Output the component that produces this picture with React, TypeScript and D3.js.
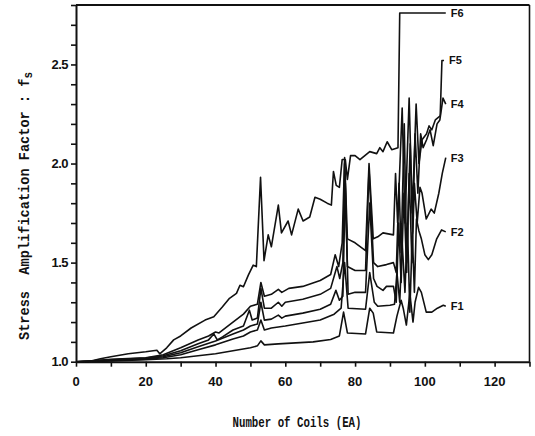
import React, { useEffect, useRef } from 'react';
import * as d3 from 'd3';

type Pt = [number, number];

// tick labels
const xTickLabels = [0, 20, 40, 60, 80, 100, 120];
const yTickLabels = [1.0, 1.5, 2.0, 2.5];
const seriesNames = ['F1', 'F2', 'F3', 'F4', 'F5', 'F6'];

// values: [number of coils, f_s]
const f1: Pt[] = [
  [0, 1.0], [4, 1.0], [10, 1.004], [20, 1.01], [26, 1.015], [30, 1.02], [40, 1.04], [45, 1.055],
  [50, 1.07], [52, 1.08], [53, 1.105], [54, 1.085], [58, 1.09], [63, 1.095], [68, 1.1], [73, 1.112],
  [75.5, 1.13], [76.7, 1.25], [77.8, 1.145], [83, 1.14], [84.2, 1.27], [85.2, 1.245], [86.2, 1.15],
  [91, 1.145], [92, 1.23], [93.2, 1.31], [93.8, 1.27], [94.7, 1.185], [95.7, 1.345], [96.6, 1.2],
  [97.2, 1.3], [98.2, 1.375], [99, 1.35], [100.4, 1.25], [102, 1.25], [103.6, 1.27], [105.3, 1.285],
  [106, 1.28],
];

const f2: Pt[] = [
  [0, 1.0], [5, 1.002], [10, 1.006], [20, 1.013], [25, 1.02], [30, 1.035], [35, 1.06], [40, 1.085],
  [45, 1.115], [48, 1.13], [50, 1.15], [52, 1.16], [53, 1.21], [54, 1.16], [56, 1.17], [58, 1.175],
  [60, 1.18], [65, 1.195], [70, 1.21], [74, 1.24], [76, 1.27], [77, 1.5], [78, 1.27], [83, 1.265],
  [84.2, 1.45], [85.5, 1.3], [86.5, 1.28], [90, 1.285], [91.3, 1.29], [92, 1.45], [92.8, 1.3],
  [93.5, 1.6], [94.3, 1.35], [95, 1.7], [95.7, 1.25], [96.4, 1.65], [97, 1.35], [97.6, 1.72],
  [98.3, 1.66], [99, 1.62], [100, 1.54], [101, 1.515], [102, 1.54], [103.4, 1.62], [104.8, 1.665],
  [106, 1.655],
];

const f3: Pt[] = [
  [0, 1.0], [5, 1.003], [10, 1.008], [20, 1.016], [25, 1.025], [30, 1.045], [35, 1.075], [40, 1.105],
  [45, 1.14], [48, 1.16], [50, 1.18], [52, 1.19], [53, 1.3], [54, 1.21], [56, 1.215], [58, 1.235],
  [59, 1.22], [60, 1.23], [65, 1.245], [70, 1.265], [73, 1.29], [74.5, 1.36], [75.5, 1.31],
  [76.5, 1.33], [77.2, 1.9], [78, 1.34], [80, 1.35], [83, 1.35], [84.2, 1.8], [85.3, 1.42],
  [86.3, 1.38], [88, 1.36], [89, 1.38], [91, 1.38], [91.8, 1.3], [92.5, 1.7], [93.2, 1.4],
  [94, 1.85], [94.8, 1.45], [95.5, 1.95], [96.3, 1.5], [97, 1.9], [97.8, 1.7], [98.6, 1.88],
  [99.2, 1.85], [100.4, 1.72], [101.8, 1.77], [102.7, 1.75], [104, 1.85], [105, 1.95], [106, 2.03],
];

const f4: Pt[] = [
  [0, 1.0], [5, 1.004], [10, 1.01], [20, 1.018], [25, 1.03], [30, 1.055], [35, 1.09], [38, 1.11],
  [39.5, 1.14], [40.5, 1.11], [42, 1.125], [45, 1.16], [48, 1.18], [49.7, 1.26], [50.5, 1.21],
  [52, 1.22], [53, 1.37], [54, 1.27], [56, 1.27], [58, 1.3], [59, 1.28], [60, 1.3], [65, 1.315],
  [70, 1.34], [73, 1.37], [74.8, 1.48], [75.6, 1.42], [76.5, 1.5], [77, 2.0], [77.8, 1.48],
  [80, 1.46], [83, 1.46], [84, 1.97], [85.3, 1.5], [86.5, 1.48], [89, 1.49], [91, 1.5], [91.8, 1.45],
  [92.6, 1.9], [93.2, 1.55], [94.1, 2.2], [94.8, 1.5], [95.8, 2.1], [96.5, 1.65], [97.2, 2.15],
  [98, 1.85], [98.8, 2.15], [99.5, 2.08], [100.5, 2.12], [101.5, 2.17], [102.4, 2.09], [103.5, 2.2],
  [104.3, 2.22], [105.2, 2.33], [106, 2.3],
];

const f5: Pt[] = [
  [0, 1.0], [5, 1.005], [10, 1.012], [20, 1.02], [25, 1.035], [30, 1.07], [35, 1.11], [38, 1.13],
  [40, 1.15], [41, 1.145], [45, 1.2], [48, 1.24], [50, 1.28], [52, 1.29], [53, 1.4], [54, 1.33],
  [56, 1.34], [58, 1.365], [59, 1.35], [61, 1.37], [65, 1.38], [70, 1.41], [73, 1.44], [74.3, 1.54],
  [75.3, 1.48], [76.3, 1.6], [77, 2.03], [77.8, 1.62], [80, 1.6], [83, 1.56], [84, 2.0], [85.2, 1.62],
  [86.5, 1.63], [88, 1.65], [89.5, 1.645], [91, 1.64], [91.6, 1.95], [92.2, 1.7], [93.5, 2.28],
  [94.3, 1.7], [95.5, 2.33], [96.4, 1.75], [97.5, 2.3], [98.3, 2.0], [99.2, 2.12], [100.5, 2.15],
  [101.2, 2.19], [102, 2.17], [103, 2.22], [104.4, 2.24], [104.9, 2.52], [105.5, 2.52],
];

const f6: Pt[] = [
  [0, 1.0], [4, 1.002], [7, 1.015], [10, 1.025], [15, 1.04], [20, 1.05], [23.2, 1.058], [24, 1.04],
  [26, 1.07], [28, 1.11], [30, 1.13], [33, 1.17], [37, 1.21], [39.5, 1.227], [42, 1.277], [44, 1.32],
  [46, 1.345], [47, 1.386], [48, 1.378], [49.4, 1.437], [50.8, 1.487], [51.7, 1.48], [52.9, 1.93],
  [53.9, 1.51], [55.1, 1.64], [56, 1.58], [58, 1.79], [58.9, 1.65], [60.8, 1.71], [61.8, 1.64],
  [63.7, 1.77], [65.1, 1.71], [67, 1.73], [68.5, 1.83], [70, 1.82], [72, 1.8], [73.2, 1.79],
  [73.8, 1.96], [74.6, 1.89], [75.5, 1.88], [76.3, 2.02], [77.2, 2.02], [77.8, 1.92], [78.7, 2.04],
  [80, 2.04], [81.4, 2.02], [84.2, 2.06], [86.2, 2.05], [87.1, 2.08], [88, 2.06], [89.2, 2.11],
  [90.5, 2.07], [92.3, 2.08], [92.8, 2.76], [106, 2.76],
];

const seriesData = [f1, f2, f3, f4, f5, f6];

const App: React.FC = () => {
  const ref = useRef<SVGSVGElement>(null);

  useEffect(() => {
    if (!ref.current) return;
    const svg = d3.select(ref.current);
    svg.selectAll('*').remove();

    const left = 76, right = 529.5, top = 5, bottom = 361.7;

    const x = d3.scaleLinear().domain([0, 130]).range([left, right]);
    const y = d3.scaleLinear().domain([1.0, 2.8]).range([bottom, top]);

    // frame (top + right)
    svg.append('line')
      .attr('x1', left).attr('x2', right).attr('y1', top).attr('y2', top)
      .attr('stroke', '#111').attr('stroke-width', 2.2);
    svg.append('line')
      .attr('x1', right).attr('x2', right).attr('y1', top).attr('y2', bottom)
      .attr('stroke', '#111').attr('stroke-width', 1.6);

    // x axis
    const xAxis = svg.append('g')
      .attr('transform', `translate(0,${bottom})`)
      .call(d3.axisBottom(x).tickValues(d3.range(0, 131, 10)).tickSize(5).tickSizeOuter(0).tickFormat(() => ''));
    xAxis.select('.domain').attr('stroke', '#111').attr('stroke-width', 2);
    xAxis.selectAll('.tick line').attr('stroke', '#111').attr('stroke-width', 1.6);

    svg.append('g').selectAll('text')
      .data(xTickLabels)
      .enter()
      .append('text')
      .attr('x', d => x(d))
      .attr('y', bottom + 24)
      .attr('text-anchor', 'middle')
      .style('font-family', 'Liberation Sans, Arial, sans-serif')
      .style('font-weight', 'bold')
      .style('font-size', '13px')
      .style('fill', '#111')
      .text(d => d);

    // y axis
    const yAxis = svg.append('g')
      .attr('transform', `translate(${left},0)`)
      .call(d3.axisLeft(y).tickValues(d3.range(10, 29, 1).map(v => v / 10)).tickSize(5).tickSizeOuter(0).tickFormat(() => ''));
    yAxis.select('.domain').attr('stroke', '#111').attr('stroke-width', 2);
    yAxis.selectAll('.tick line').attr('stroke', '#111').attr('stroke-width', 1.6);

    svg.append('g').selectAll('text')
      .data(yTickLabels)
      .enter()
      .append('text')
      .attr('x', left - 8)
      .attr('y', d => y(d) + 4.5)
      .attr('text-anchor', 'end')
      .style('font-family', 'Liberation Sans, Arial, sans-serif')
      .style('font-weight', 'bold')
      .style('font-size', '13px')
      .style('letter-spacing', '-0.5px')
      .style('fill', '#111')
      .text(d => d.toFixed(1));

    // series
    const line = d3.line<Pt>()
      .x(d => x(d[0]))
      .y(d => y(d[1]));

    svg.append('g').selectAll('path')
      .data(seriesData)
      .enter()
      .append('path')
      .attr('d', d => line(d))
      .attr('fill', 'none')
      .attr('stroke', '#111')
      .attr('stroke-width', 1.6)
      .attr('stroke-linejoin', 'round');

    // end labels
    svg.append('g').selectAll('text')
      .data(seriesData)
      .enter()
      .append('text')
      .attr('x', d => x(d[d.length - 1][0]) + 5)
      .attr('y', d => y(d[d.length - 1][1]) + 4)
      .style('font-family', 'Liberation Sans, Arial, sans-serif')
      .style('font-weight', 'bold')
      .style('font-size', '11px')
      .style('fill', '#111')
      .text((d, i) => seriesNames[i]);

    // axis titles
    const yTitle = svg.append('text')
      .attr('transform', `translate(29, 206) rotate(-90)`)
      .attr('text-anchor', 'middle')
      .attr('textLength', 268)
      .attr('lengthAdjust', 'spacingAndGlyphs')
      .style('font-family', 'Liberation Mono, DejaVu Sans Mono, monospace')
      .style('font-size', '15px')
      .style('font-weight', 'bold')
      .style('fill', '#111')
      .style('white-space', 'pre');
    yTitle.append('tspan').text('Stress  Amplification Factor : f');
    yTitle.append('tspan')
      .attr('dy', 3)
      .style('font-size', '12px')
      .text('s');

    svg.append('text')
      .attr('x', 297)
      .attr('y', 427)
      .attr('text-anchor', 'middle')
      .attr('textLength', 129)
      .attr('lengthAdjust', 'spacingAndGlyphs')
      .style('font-family', 'Liberation Mono, DejaVu Sans Mono, monospace')
      .style('font-size', '15px')
      .style('font-weight', 'bold')
      .style('fill', '#111')
      .text('Number of Coils (EA)');
  }, []);

  return (
    <svg
      ref={ref}
      width={535}
      height={436}
      style={{ position: 'absolute', left: 0, top: 0, background: '#fff' }}
    />
  );
};

export default App;
